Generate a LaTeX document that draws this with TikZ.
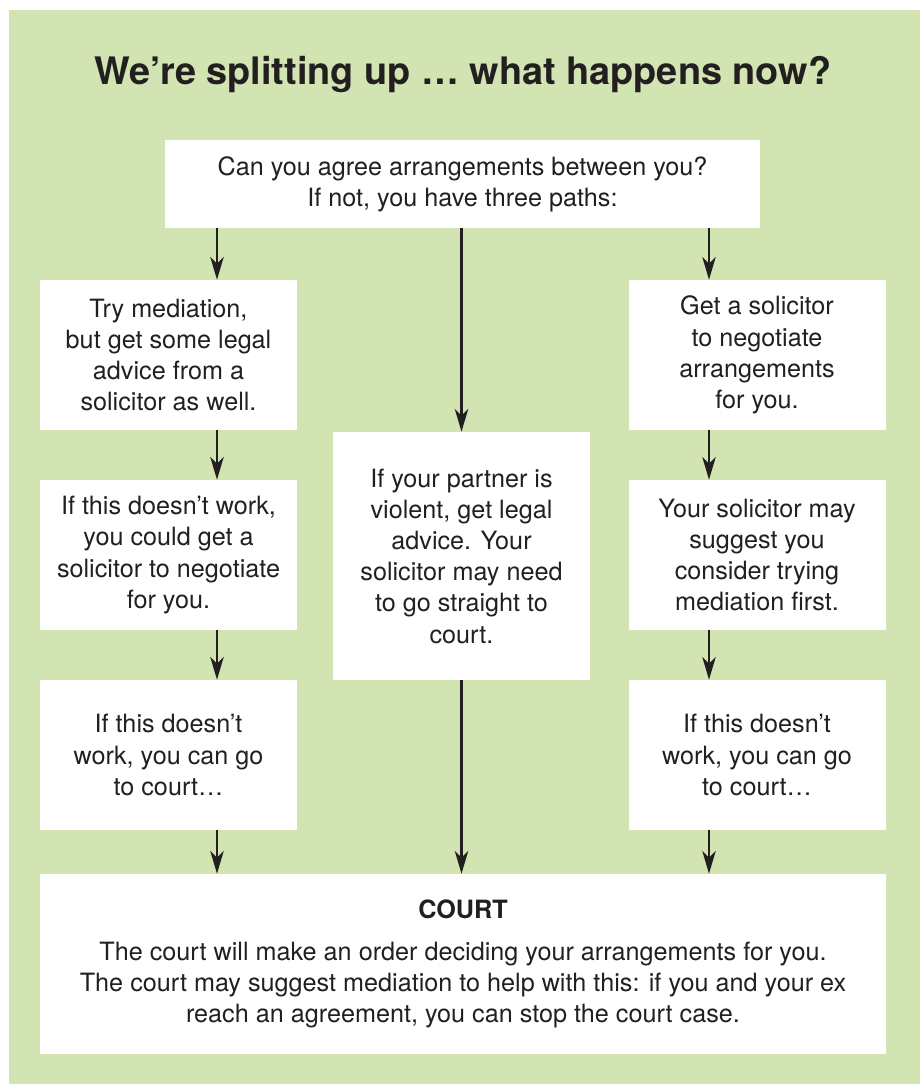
\documentclass[tikz,border=0pt]{standalone}
\usepackage{fontspec}
\setmainfont{TeX Gyre Heros}
\usetikzlibrary{arrows.meta, positioning}
\definecolor{leafgreen}{RGB}{209,228,178}
\definecolor{inkgrey}{RGB}{35,31,32}

\begin{document}
\begin{tikzpicture}[x=0.75pt, y=-0.75pt, node distance=150pt, on grid,
        box/.style={fill=white, text=inkgrey, align=center, inner sep=0pt,
            font=\fontsize{18.9}{23.4}\selectfont,
            minimum width=192.75pt, minimum height=112.5pt},
        flow/.style={-{Stealth[length=17pt, width=10pt, inset=5pt]}, line width=2.2pt, draw=inkgrey}]
        \useasboundingbox (0,0) rectangle (920,1084);
        \fill[leafgreen] (9,10) rectangle (920,1084);

        \node[text=inkgrey, font=\fontsize{28.4}{32}\bfseries] (title) at (463,75)
            {We’re splitting up … what happens now?};

        \node[box, minimum width=446.25pt, minimum height=66pt] (top) at (462.5,184)
            {Can you agree arrangements between you?\\If not, you have three paths:};

        \node[box]            (mediate)  at (168.5,355) {Try mediation,\\but get some legal\\advice from a\\solicitor as well.};
        \node[box]            (negotiate) [below=of mediate]   {If this doesn’t work,\\you could get a\\solicitor to negotiate\\for you.};
        \node[box]            (leftcourt) [below=of negotiate] {If this doesn’t\\work, you can go\\to court…};

        \node[box, minimum height=186pt] (violent) at (461.5,556)
            {If your partner is\\violent, get legal\\advice. Your\\solicitor may need\\to go straight to\\court.};

        \node[box]            (solicitor)  at (757,355) {Get a solicitor\\to negotiate\\arrangements\\for you.};
        \node[box]            (suggest)    [below=of solicitor]  {Your solicitor may\\suggest you\\consider trying\\mediation first.};
        \node[box]            (rightcourt) [below=of suggest]    {If this doesn’t\\work, you can go\\to court…};

        \node[box, minimum width=634.5pt, minimum height=135pt] (court) at (463,964)
            {\textbf{COURT}\\[8pt]The court will make an order deciding your arrangements for you.\\
             The court may suggest mediation to help with this: if you and your ex\\
             reach an agreement, you can stop the court case.};

        % arrows sit off the column centres
        \coordinate (lft) at (217,0);
        \coordinate (rgt) at (709,0);

        % three paths
        \draw[flow] (top.south -| lft) -- (mediate.north -| lft);
        \draw[flow] (top.south -| violent.north) -- (violent.north);
        \draw[flow] (top.south -| rgt) -- (solicitor.north -| rgt);

        \draw[flow] (mediate.south -| lft) -- (negotiate.north -| lft);
        \draw[flow] (negotiate.south -| lft) -- (leftcourt.north -| lft);
        \draw[flow] (leftcourt.south -| lft) -- (court.north -| lft);

        \draw[flow] (violent.south) -- (court.north -| violent.south);

        \draw[flow] (solicitor.south -| rgt) -- (suggest.north -| rgt);
        \draw[flow] (suggest.south -| rgt) -- (rightcourt.north -| rgt);
        \draw[flow] (rightcourt.south -| rgt) -- (court.north -| rgt);
\end{tikzpicture}
\end{document}
